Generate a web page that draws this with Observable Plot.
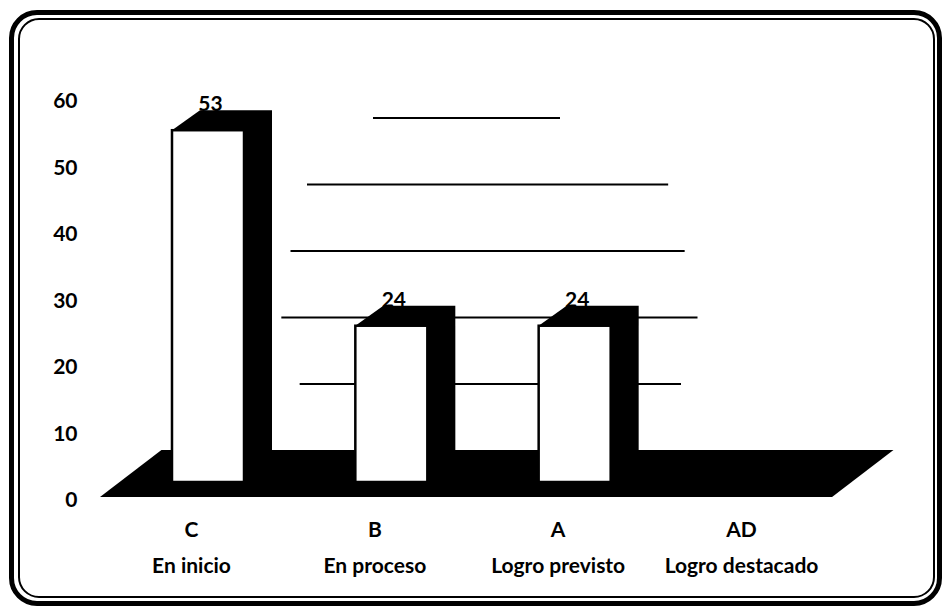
<!DOCTYPE html>
<html><head><meta charset="utf-8">
<script src="https://cdn.jsdelivr.net/npm/d3@7"></script>
<script src="https://cdn.jsdelivr.net/npm/@observablehq/plot@0.6"></script>
<style>
html,body{margin:0;padding:0;background:#fff;}
#wrap{position:relative;width:943px;height:607px;overflow:hidden;}
#outer{position:absolute;left:9px;top:10px;width:933px;height:596px;box-sizing:border-box;border:5px solid #000;border-radius:28px;}
#inner{position:absolute;left:18px;top:18px;width:917px;height:580px;box-sizing:border-box;border:2px solid #000;border-radius:21px;}
#chart{position:absolute;left:0;top:0;}
</style></head><body>
<div id="wrap"><div id="outer"></div><div id="inner"></div><div id="chart"></div></div>
<script>
// ---- data ----
const codes = ["C", "B", "A", "AD"];
const names = ["En inicio", "En proceso", "Logro previsto", "Logro destacado"];
const values = [52.9, 23.5, 23.5, 0];
const yTicks = [0, 10, 20, 30, 40, 50, 60];
const gridValues = [10, 20, 30, 40, 50];

// ---- 3D geometry (style constants, in scale units) ----
const HW = 0.1964;      // half width of bar front face
const DDX = 0.1527;     // bar depth, x
const DDY = 3.0;        // bar depth, y
const FLOOR_FRONT = -2.26, FLOOR_BACK = 4.81;
const FLOOR_PAD_L = 0.589, FLOOR_PAD_R = 0.404, FLOOR_DX = 0.335;
// visible (faded scan) extents of back-wall gridlines
const gridSpan = {10: [0.50, 2.58], 20: [0.40, 2.67], 30: [0.45, 2.60], 40: [0.54, 2.51], 50: [0.90, 1.92]};

const last = codes.length - 1;
const floor = [
  {x: -FLOOR_PAD_L, y1: FLOOR_FRONT, y2: FLOOR_FRONT},
  {x: -FLOOR_PAD_L + FLOOR_DX, y1: FLOOR_FRONT, y2: FLOOR_BACK},
  {x: last + FLOOR_PAD_R, y1: FLOOR_FRONT, y2: FLOOR_BACK},
  {x: last + FLOOR_PAD_R + FLOOR_DX, y1: FLOOR_BACK, y2: FLOOR_BACK}
];
const bars = values.map((v, i) => ({i, v, code: codes[i], name: names[i]}));
const shapes = bars.flatMap(({i, v}) => [
  {i, x: i - HW, y1: 0, y2: v},
  {i, x: i - HW + DDX, y1: 0, y2: v + DDY},
  {i, x: i + HW, y1: 0, y2: v + DDY},
  {i, x: i + HW + DDX, y1: DDY, y2: v + DDY}
]);
const grid = gridValues.map(g => ({g, x1: gridSpan[g][0], x2: gridSpan[g][1]}));

const font = "Lato, 'Open Sans', sans-serif";
const FS = 21;
const chart = Plot.plot({
  width: 943, height: 607,
  marginTop: 0, marginRight: 0, marginBottom: 0, marginLeft: 77,
  x: {type: "linear", domain: [0, 3], range: [208, 758], axis: null},
  y: {type: "linear", domain: [0, 60], range: [482, 83], axis: null},
  style: {background: "transparent", fontFamily: font, fontSize: FS + "px", color: "black"},
  marks: [
    Plot.ruleY(grid, {y: d => d.g + FLOOR_BACK, x1: "x1", x2: "x2", stroke: "black", strokeWidth: 2}),
    Plot.areaY(floor, {x: "x", y1: "y1", y2: "y2", fill: "black", curve: "linear"}),
    Plot.areaY(shapes, {x: "x", y1: "y1", y2: "y2", z: "i", fill: "black", curve: "linear"}),
    Plot.rect(bars.filter(d => d.v > 0), {x1: d => d.i - HW, x2: d => d.i + HW, y1: 0, y2: "v", fill: "white", stroke: "black", strokeWidth: 2.5}),
    Plot.text(bars.filter(d => d.v > 0), {x: "i", y: "v", dx: 2, dy: -26, text: d => String(Math.round(d.v)), fontSize: FS, fontWeight: "bold", fill: "black", lineAnchor: "middle"}),
    Plot.text(yTicks, {y: d => d, frameAnchor: "left", textAnchor: "end", lineAnchor: "middle", dy: 18, text: d => String(d), fontSize: FS, fontWeight: "bold", fill: "black"}),
    Plot.text(bars, {x: "i", frameAnchor: "bottom", lineAnchor: "middle", dx: -17, dy: -77.5, text: "code", fontSize: FS, fontWeight: "bold", fill: "black"}),
    Plot.text(bars, {x: "i", frameAnchor: "bottom", lineAnchor: "middle", dx: -17, dy: -41, text: "name", fontSize: FS, fontWeight: "bold", fill: "black"})
  ]
});
document.getElementById("chart").appendChild(chart);
</script>
</body></html>
